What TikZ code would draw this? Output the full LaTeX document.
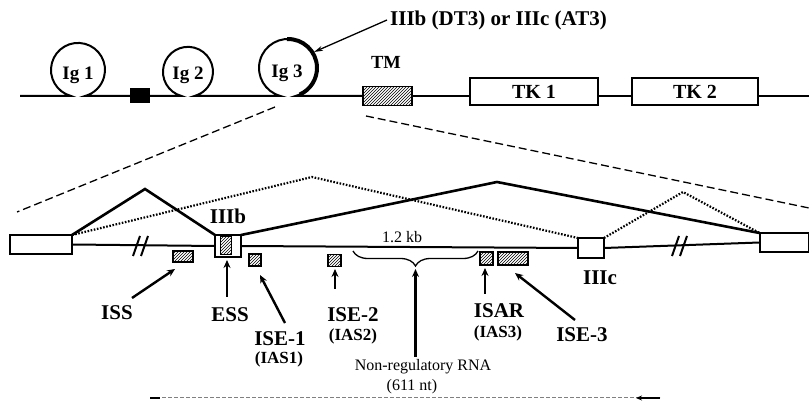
\documentclass[tikz,border=0pt]{standalone}
\usepackage{fontspec}
\setmainfont{Liberation Serif}
\usetikzlibrary{patterns,arrows.meta,decorations.pathreplacing}
\begin{document}
\begin{tikzpicture}[x=1pt,y=-1pt,
  box/.style={draw, line width=2pt, inner sep=0pt, outer sep=0pt, fill=white},
  hbox/.style={draw, line width=1.2pt, inner sep=0pt, outer sep=0pt, pattern=north east lines},
  big/.style={font=\fontsize{21}{21}\selectfont\bfseries, inner sep=0pt},
  igl/.style={font=\fontsize{19}{19}\selectfont\bfseries, inner sep=0pt},
  mid/.style={font=\fontsize{17}{17}\selectfont\bfseries, inner sep=0pt},
  small/.style={font=\fontsize{16}{16}\selectfont, inner sep=0pt},
  gene/.style={line width=2pt},
  splice/.style={line width=2.6pt, line join=miter},
  alt/.style={line width=2.2pt, dash pattern=on 1.6pt off 1.6pt},
  zoomline/.style={line width=1.3pt, dash pattern=on 8pt off 4pt},
  ptr/.style={line width=2.4pt, -{Stealth[length=8pt,width=7pt]}},
  brk/.style={line width=2pt},
]
\fill[white] (0,0) rectangle (809,403);
\useasboundingbox (0,0) rectangle (809,403);

% ---------- top: protein domains ----------
\node[fill=black, minimum width=20pt, minimum height=15pt, inner sep=0pt, outer sep=0pt] (sq) at (140,96) {};
\node[hbox, line width=1.6pt, minimum width=49pt, minimum height=19pt] (tm) at (387.5,96) {};
\node[box, minimum width=128pt, minimum height=27pt, font=\fontsize{20}{20}\selectfont\bfseries] (tk1) at (534,91.5) {TK 1};
\node[box, minimum width=126pt, minimum height=27pt, font=\fontsize{20}{20}\selectfont\bfseries] (tk2) at (695,91.5) {TK 2};
\coordinate (topL) at (20,96);
\coordinate (topR) at (809,96);

\draw[gene] (topL) -- (71,96) arc[start angle=255,end angle=-75,radius=27pt] -- (sq.west);
\draw[gene] (sq.east) -- (181.5,96) arc[start angle=255,end angle=-75,radius=25pt]
  -- (280.5,96) arc[start angle=255,end angle=-75,radius=29pt] -- (tm.west);
\draw[gene] (tm.east) -- (tk1.west |- tm.east);
\draw[gene] (tk1.east |- tm.east) -- (tk2.west |- tm.east);
\draw[gene] (tk2.east |- tm.east) -- (topR);

\coordinate (ig3c) at (288,68);
\draw[line width=4pt] (ig3c) ++(92:29pt) arc[start angle=92,end angle=-66,radius=29pt];

\node[igl] (ig1) at (78,75) {Ig 1};
\node[igl] (ig2) at (188,75) {Ig 2};
\node[igl] (ig3) at (287,73) {Ig 3};
\node[font=\fontsize{18.5}{18.5}\selectfont\bfseries, inner sep=0pt] (tml) at (386,62) {TM};

\node[font=\fontsize{21}{21}\selectfont\bfseries, anchor=west, inner sep=3pt] (title) at (387,20) {IIIb (DT3) or IIIc (AT3)};
\coordinate (arctip) at (314,52);
\draw[line width=1.3pt, -{Stealth[length=9pt,width=5pt]}] (title.west) -- (arctip);

% ---------- zoom lines ----------
\coordinate (zA1) at (275,107);
\coordinate (zA2) at (17,212);
\coordinate (zB1) at (366,116);
\coordinate (zB2) at (809,208);
\draw[zoomline] (zA1) -- (zA2);
\draw[zoomline] (zB1) -- (zB2);

% ---------- bottom: gene region ----------
\node[box, minimum width=62pt, minimum height=19pt] (ex1) at (41,244.5) {};
\node[box, minimum width=26pt, minimum height=22pt] (ex3b) at (228,246) {};
\node[box, minimum width=26pt, minimum height=20pt] (ex3c) at (591,248) {};
\node[box, minimum width=49pt, minimum height=19pt] (ex2) at (784,242.5) {};

\draw[gene] (ex1.east) -- (ex3b.west);
\draw[gene] (ex3b.east) -- (ex3c.west);
\draw[gene] (ex3c.east) -- (ex2.west);

\node[hbox, line width=1pt, minimum width=11pt, minimum height=18pt] (ex3bh) at (225.5,246) {};

% breaks
\draw[brk] (133,256) -- (140,236);
\draw[brk] (141,256) -- (148,236);
\draw[brk] (672,256) -- (679,236);
\draw[brk] (680,256) -- (687,236);

% splicing
\coordinate (pk1) at (145,189);
\coordinate (pk2) at (497,182);
\coordinate (pk3) at (312,177);
\coordinate (pk4) at (683,192);
\draw[splice] (ex1.north east) -- (pk1) -- (ex3b.north west);
\draw[splice] (ex3b.north east) -- (pk2) -- (ex2.north west);
\draw[alt] (ex1.north east) -- (pk3) -- (ex3c.north west);
\draw[alt] (ex3c.north east) -- (pk4) -- (ex2.north west);

% regulatory elements
\node[hbox, minimum width=20pt, minimum height=11pt] (iss) at (183,256.5) {};
\node[hbox, minimum width=12pt, minimum height=12pt] (ise1) at (255,260) {};
\node[hbox, minimum width=13pt, minimum height=12pt] (ise2) at (334.5,260.5) {};
\node[hbox, minimum width=13pt, minimum height=13pt] (isar) at (486.5,258.5) {};
\node[hbox, minimum width=30pt, minimum height=13pt] (ise3) at (513,258.5) {};

% brace
\coordinate (brR) at (478,251);
\coordinate (brL) at (353,251);
\draw[line width=1.3pt, decorate, decoration={brace, amplitude=15pt}] (brR) -- (brL);
\coordinate (brtip) at (415.5,269);

% labels
\node[big] (l3b) at (228,216) {IIIb};
\node[big] (l3c) at (600,278) {IIIc};
\node[small] (kb) at (402,237) {1.2 kb};
\node[big] (issl) at (117,313) {ISS};
\node[big] (essl) at (230,315) {ESS};
\node[big] (ise1l) at (280,339) {ISE-1};
\node[mid] (ias1) at (279,359) {(IAS1)};
\node[big] (ise2l) at (353,315) {ISE-2};
\node[mid] (ias2) at (353,336) {(IAS2)};
\node[big] (isarl) at (499,311) {ISAR};
\node[mid] (ias3) at (498,333) {(IAS3)};
\node[big] (ise3l) at (582,335) {ISE-3};
\node[small] (nrl) at (423,367) {Non-regulatory RNA};
\node[small] (ntl) at (412,387) {(611 nt)};

% pointer arrows
\coordinate (a1s) at (132,298); \coordinate (a1e) at (175,269);
\coordinate (a2s) at (227,297); \coordinate (a2e) at (227,260);
\coordinate (a3s) at (285,323); \coordinate (a3e) at (260,275);
\coordinate (a4s) at (335,289); \coordinate (a4e) at (335,269);
\coordinate (a5s) at (415.5,357);
\coordinate (a6s) at (485,294); \coordinate (a6e) at (485,268);
\coordinate (a7s) at (575,320); \coordinate (a7e) at (515,273);
\draw[ptr] (a1s) -- (a1e);
\draw[ptr] (a2s) -- (a2e);
\draw[ptr] (a3s) -- (a3e);
\draw[ptr] (a4s) -- (a4e);
\draw[ptr] (a5s) -- (brtip);
\draw[ptr] (a6s) -- (a6e);
\draw[ptr] (a7s) -- (a7e);

% bottom scale line
\coordinate (bl) at (150,398);
\coordinate (br) at (660,398);
\coordinate (bt) at (636,398);
\draw[gray, line width=1pt, dash pattern=on 4pt off 2pt] (bl) -- (br);
\draw[line width=1.6pt] (bl) -- (160,398);
\draw[line width=1.2pt, -{Stealth[length=6pt,width=5pt]}] (br) -- (bt);
\end{tikzpicture}
\end{document}
